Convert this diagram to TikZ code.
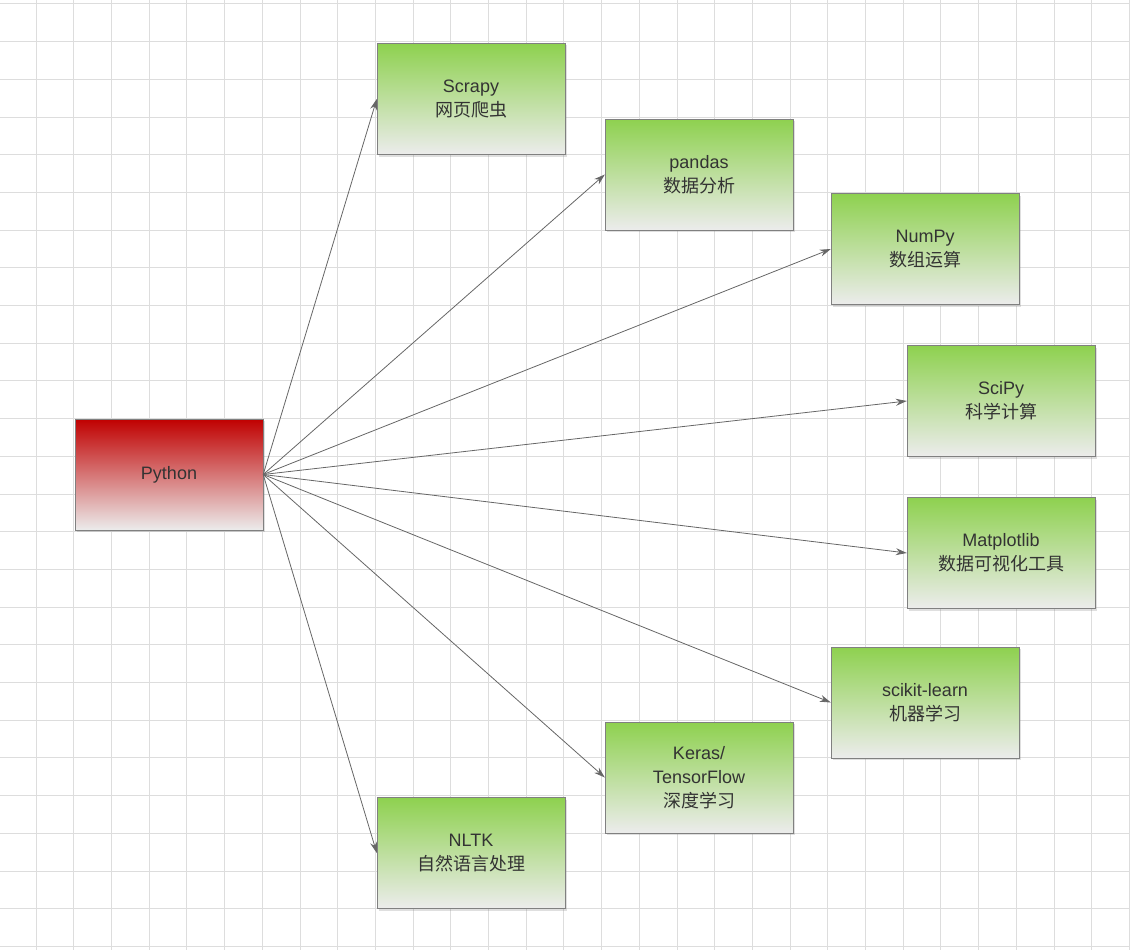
\documentclass[tikz,border=0pt]{standalone}
\usepackage{fontspec}
\setmainfont{Liberation Sans}
\newfontfamily\cjk{Noto Sans CJK SC}
\usetikzlibrary{arrows.meta,positioning,shadows}
\definecolor{gridgray}{HTML}{DDDDDD}
\definecolor{libgreen}{HTML}{8ED14F}
\definecolor{pyred}{HTML}{C00000}
\definecolor{boxtext}{HTML}{333333}
\tikzset{
  lib/.style={draw=gray, minimum width=188pt, minimum height=111pt,
    top color=libgreen, bottom color=gray!15, text=boxtext, align=center,
    font=\fontsize{18pt}{24pt}\selectfont, drop shadow={opacity=0.25, shadow xshift=2pt, shadow yshift=-2pt}},
  root/.style={lib, top color=pyred},
  link/.style={draw=gray!80!black, line width=0.8pt, -{Stealth[length=11pt,width=7pt]}}
}
\begin{document}
\begin{tikzpicture}[x=1pt,y=-1pt]
\useasboundingbox (0,0) rectangle (1130,950);
% grid
\foreach \k in {0,...,29} {
  \draw[gridgray, line width=0.8pt] (36+\k*37.7,0) -- (36+\k*37.7,950);
  \draw[gridgray, line width=0.8pt] (0,3.8+\k*37.7) -- (1130,3.8+\k*37.7);
}

\node[root] (python) at (169,474.5) {Python};
\node[lib] (scrapy) at (471,99) {Scrapy\\{\cjk 网页爬虫}};
\node[lib] (pandas) at (699,174.5) {pandas\\{\cjk 数据分析}};
\node[lib] (numpy) at (925,249) {NumPy\\{\cjk 数组运算}};
\node[lib] (scipy) at (1001,401) {SciPy\\{\cjk 科学计算}};
\node[lib] (matplotlib) at (1001,553) {Matplotlib\\{\cjk 数据可视化工具}};
\node[lib] (sklearn) at (925,702.5) {scikit-learn\\{\cjk 机器学习}};
\node[lib] (keras) at (699,777.5) {Keras/\\TensorFlow\\{\cjk 深度学习}};
\node[lib] (nltk) at (471,853) {NLTK\\{\cjk 自然语言处理}};

\foreach \target in {scrapy,pandas,numpy,scipy,matplotlib,sklearn,keras,nltk}
  \draw[link] (python.east) -- (\target.west);

\end{tikzpicture}
\end{document}
